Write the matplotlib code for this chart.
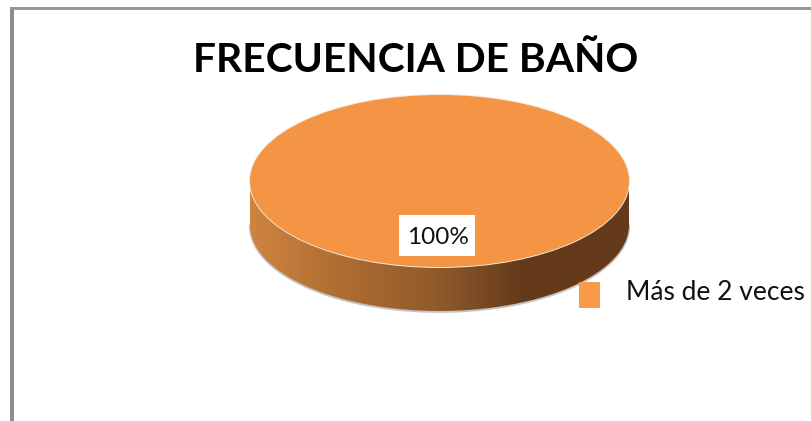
import numpy as np
import matplotlib

matplotlib.use("Agg")
import matplotlib.pyplot as plt
from matplotlib.colors import LinearSegmentedColormap
from matplotlib.patches import Ellipse, PathPatch, Rectangle
from matplotlib.path import Path

title = "FRECUENCIA DE BAÑO"
categories = ["Más de 2 veces"]
values = [100]
labels = ["100%"]

W, H = 811, 421
cx, cy, rx, ry = 439.5, 181, 189.5, 86
depth = 44
orange = "#f39545"

plt.rcParams["font.family"] = ["Lato", "DejaVu Sans"]

fig = plt.figure(figsize=(W / 100, H / 100), dpi=100)
ax = fig.add_axes([0, 0, 1, 1])
ax.set_xlim(0, W)
ax.set_ylim(H, 0)
ax.axis("off")

# frame, only left and top are visible in the crop
ax.add_patch(Rectangle((10, 7), 3.5, H, fc="#8c8c8c", ec="none"))
ax.add_patch(Rectangle((10, 7), W, 2.5, fc="#979797", ec="none"))

# side wall of the disc
t = np.linspace(0, np.pi, 200)
xs = cx + rx * np.cos(t)
wall = np.r_[
    np.c_[xs, cy + depth + ry * np.sin(t)],
    np.c_[xs[::-1], cy + ry * np.sin(t[::-1])],
]
ax.plot(wall[:200, 0], wall[:200, 1] + 0.8, color="#c4c4c4", lw=1.6, zorder=1)
wall_path = Path(np.r_[wall, wall[:1]], closed=True)
clip = PathPatch(wall_path, fc="none", ec="none", transform=ax.transData)
ax.add_patch(clip)
cmap = LinearSegmentedColormap.from_list(
    "wall",
    [
        (0.0, "#cf843f"),
        (0.25, "#ad6c32"),
        (0.5, "#8f5a2b"),
        (0.72, "#643a1b"),
        (1.0, "#643a1b"),
    ],
)
grad = ax.imshow(
    np.linspace(0, 1, 256)[None, :],
    extent=(cx - rx, cx + rx, cy + depth + ry, cy),
    cmap=cmap,
    aspect="auto",
    zorder=2,
)
grad.set_clip_path(clip)
ax.set_xlim(0, W)
ax.set_ylim(H, 0)
ax.add_patch(Ellipse((cx, cy), 2 * rx + 2, 2 * ry + 2, fc="#f6e6d8", ec="none", zorder=3))

# top face is the pie itself
pie_ax = fig.add_axes([(cx - rx) / W, 1 - (cy + ry) / H, 2 * rx / W, 2 * ry / H], zorder=2)
pie_ax.pie(values, colors=[orange], radius=1, startangle=90)
pie_ax.set_aspect("auto")
pie_ax.set_xlim(-1, 1)
pie_ax.set_ylim(-1, 1)
pie_ax.patch.set_visible(False)

top = fig.add_axes([0, 0, 1, 1], zorder=3)
top.set_xlim(0, W)
top.set_ylim(H, 0)
top.axis("off")

top.text(416, 61, title, fontsize=29.3, fontweight="bold", color="black", ha="center", va="center")

top.add_patch(Rectangle((399, 215), 76, 41, fc="white", ec="none"))
top.text(437.5, 238, labels[0], fontsize=17.5, color="#111111", ha="center", va="center")

top.add_patch(Rectangle((579, 282), 21, 26, fc="#f89a4a", ec="none"))
top.text(626, 293, categories[0], fontsize=19, color="#111111", ha="left", va="center")

fig.savefig("out.png", dpi=100, facecolor="white")
plt.close(fig)
